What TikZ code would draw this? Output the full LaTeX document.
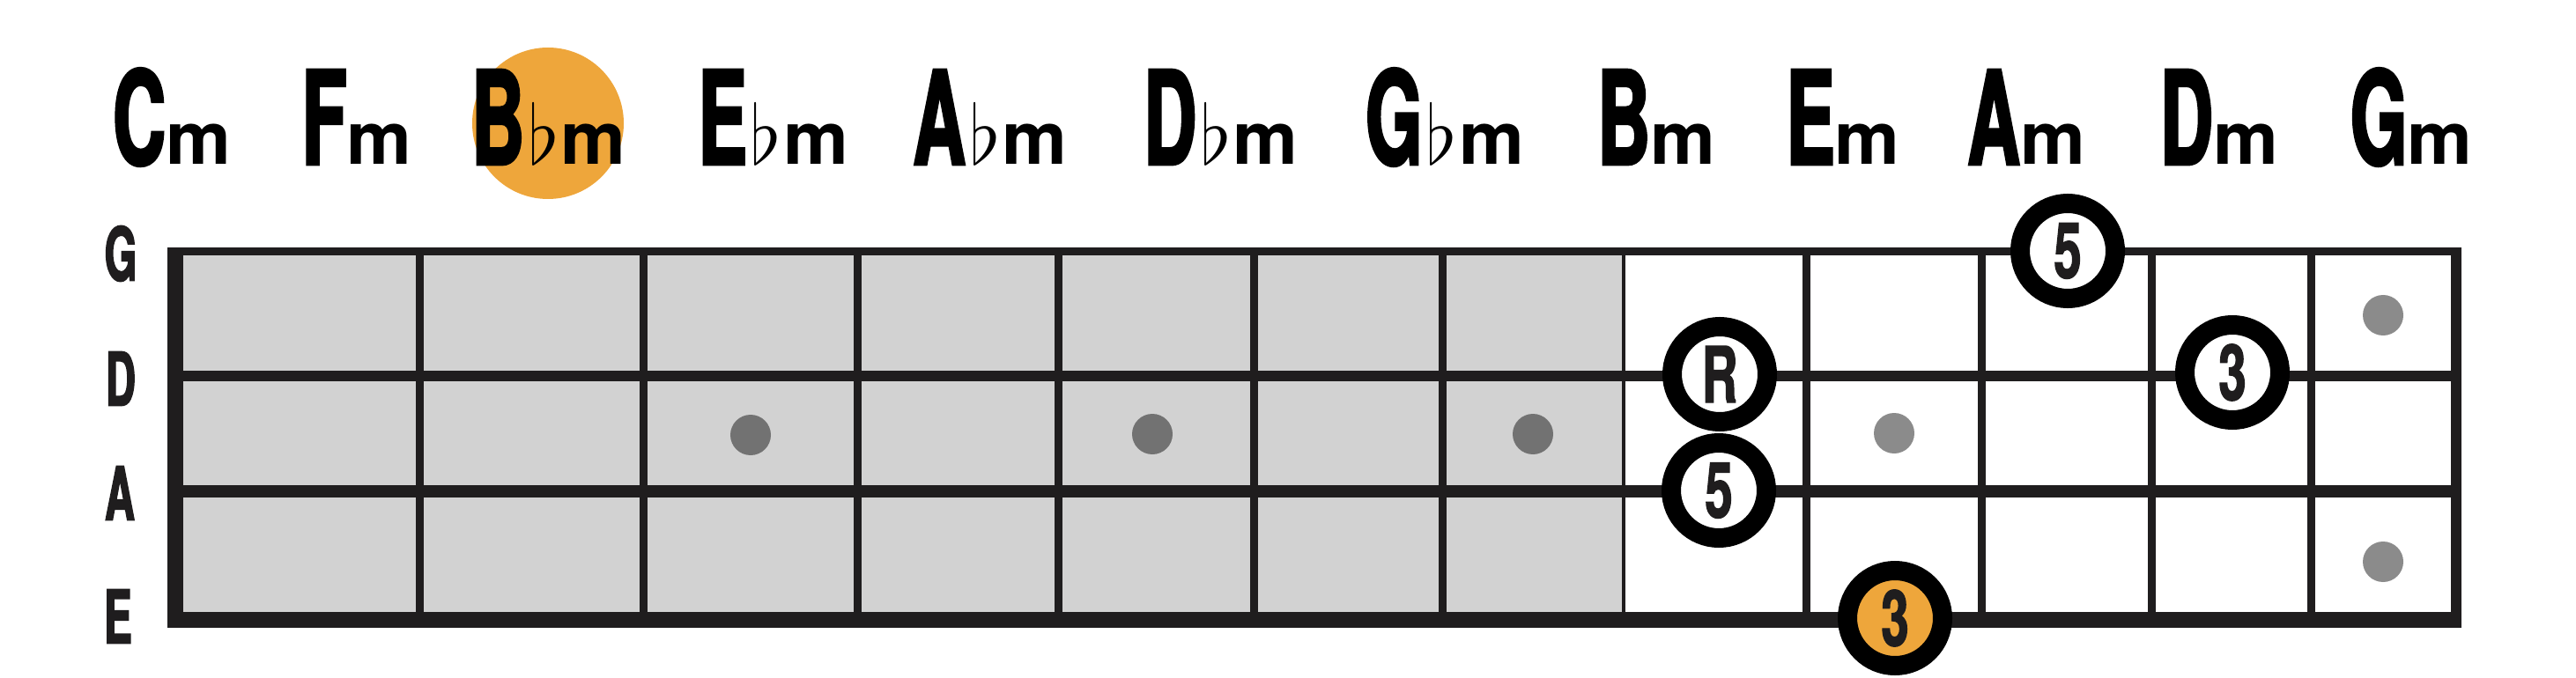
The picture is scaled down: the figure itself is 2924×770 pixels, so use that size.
\documentclass[tikz,border=0pt]{standalone}
\usepackage{fontspec}
\setmainfont{TeX Gyre Heros}
\newfontfamily\capfont[FakeStretch=0.56,FakeBold=2]{texgyreheros-bold.otf}
\newfontfamily\digfont[FakeStretch=0.64,FakeBold=1.5]{texgyreheros-bold.otf}
\newfontfamily\mfont{texgyreheros-bold.otf}
\newcommand\CapL[1]{{\capfont\fontsize{37}{37}\selectfont #1}}
\newcommand\MinL{{\mfont\fontsize{20.75}{21}\selectfont m}}
\newcommand\FlatL{{\fontsize{24.88}{25}\selectfont\kern1pt\scalebox{0.94}{$\flat$}\kern0.5pt}}
\definecolor{ink}{HTML}{1F1D1E}
\definecolor{fbgray}{HTML}{D2D2D2}
\definecolor{dotdark}{HTML}{727272}
\definecolor{dotlight}{HTML}{8B8B8B}
\definecolor{accent}{HTML}{EEA63B}
\begin{document}
\begin{tikzpicture}[x=0.25pt,y=-0.25pt,
  lbl/.style={inner sep=0pt, anchor=base, text=black},
  strlbl/.style={inner sep=0pt, text=ink, font=\capfont\fontsize{21}{21}\selectfont},
  fret/.style={draw=ink, line width=2.25pt},
  fdot/.style={circle, inner sep=0pt, minimum size=11.5pt},
  tone/.style={circle, draw=black, line width=5.5pt, fill=white, minimum size=27pt, inner sep=0pt, text=ink, font=\digfont\fontsize{22}{22}\selectfont},
  hilite/.style={circle, fill=accent, inner sep=0pt, minimum size=43pt}
]
\useasboundingbox (0,0) rectangle (2924,770);
% fretboard background
\fill[fbgray] (199,286) rectangle (1843,704);
% frets
\foreach \x in {476,730,973,1201,1423,1637,2050,2249,2442,2623}
  \draw[fret] (\x,286) -- (\x,704);
\draw[ink, line width=1pt] (1843,286) -- (1843,704);
% strings
\draw[ink, line width=2.25pt] (190,286) -- (2794,286);
\draw[ink, line width=3pt] (199,427) -- (2788,427);
\draw[ink, line width=3.5pt] (199,558) -- (2788,558);
\draw[ink, line width=4.5pt] (190,704) -- (2794,704);
% borders
\draw[ink, line width=4.5pt] (199,282) -- (199,713);
\draw[ink, line width=3pt] (2788,282) -- (2788,713);
% fret markers
\node[fdot, fill=dotdark] (m3) at (852,494) {};
\node[fdot, fill=dotdark] (m5) at (1308,493) {};
\node[fdot, fill=dotdark] (m7) at (1740,493) {};
\node[fdot, fill=dotlight] (m9) at (2150,492) {};
\node[fdot, fill=dotlight] (m12a) at (2705,358) {};
\node[fdot, fill=dotlight] (m12b) at (2705,638) {};
% string labels
\node[strlbl] (sG) at (137,288) {G};
\node[strlbl] (sD) at (137,430) {D};
\node[strlbl] (sA) at (136,560) {A};
\node[strlbl] (sE) at (134,700) {E};
% chord names
\node[hilite] (hl) at (622,140) {};
\node[lbl] (cCm) at (195,187) {\CapL{C}\MinL};
\node[lbl] (cFm) at (405,187) {\CapL{F}\MinL};
\node[lbl] (cBbm) at (623,187) {\CapL{B}\FlatL\MinL};
\node[lbl] (cEbm) at (878,187) {\CapL{E}\FlatL\MinL};
\node[lbl] (cAbm) at (1124,187) {\CapL{A}\FlatL\MinL};
\node[lbl] (cDbm) at (1386,187) {\CapL{D}\FlatL\MinL};
\node[lbl] (cGbm) at (1640,187) {\CapL{G}\FlatL\MinL};
\node[lbl] (cBm) at (1880,187) {\CapL{B}\MinL};
\node[lbl] (cEm) at (2092,187) {\CapL{E}\MinL};
\node[lbl] (cAm) at (2300,187) {\CapL{A}\MinL};
\node[lbl] (cDm) at (2519,187) {\CapL{D}\MinL};
\node[lbl] (cGm) at (2737,187) {\CapL{G}\MinL};
% chord tones
\node[tone] (root) at (1952,425) {R};
\node[tone] (fifthA) at (1951,557) {5};
\node[tone, fill=accent] (thirdE) at (2151,702) {3};
\node[tone] (fifthG) at (2347,285) {5};
\node[tone] (thirdD) at (2534,423) {3};
\end{tikzpicture}
\end{document}
